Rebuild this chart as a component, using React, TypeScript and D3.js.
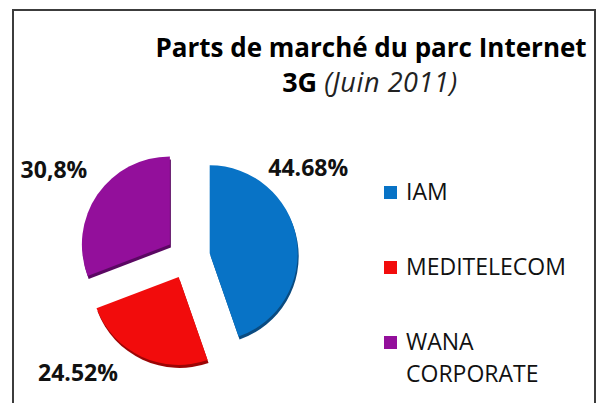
import React from "react";
import * as d3 from "d3";

const operators = ["IAM", "MEDITELECOM", "WANA CORPORATE"];
const shares = [44.68, 24.52, 30.8];
const shareLabels = ["44.68%", "24.52%", "30,8%"];
const legendLines = [["IAM"], ["MEDITELECOM"], ["WANA", "CORPORATE"]];
const sliceColors = ["#0873c6", "#f20c0c", "#930f9b"];
const edgeColors = ["#0a4b80", "#9c0505", "#5a0862"];
// label placement around the pie: angle (rad, from 12 o'clock) and radius
const labelAngles = [0.93, 3.9, 5.29];
const labelRadius = [150, 160, 160];

const W = 599;
const H = 403;
const FONT = "'Open Sans', Lato, sans-serif";

export default function App() {
  const cx = 188;
  const cy = 257;
  const r = 88;
  const explode = 22;

  const pie = d3.pie<number>().sort(null).value(d => d);
  const arcs = pie(shares);
  const arc = d3.arc<d3.PieArcDatum<number>>().innerRadius(0).outerRadius(r);

  const legendY = d3.scalePoint<string>().domain(operators).range([193, 343]);

  return (
    <svg width={W} height={H} style={{ position: "absolute", left: 0, top: 0, background: "#fff" }}>
      <rect x={13} y={10} width={582} height={H} fill="#fff" stroke="#3c3c3c" strokeWidth={2} />

      <g fontFamily={FONT} textAnchor="middle" fill="#000">
        <text x={371} y={57} fontSize={26} fontWeight="bold">Parts de marché du parc Internet</text>
        <text x={370} y={92} fontSize={27}>
          <tspan fontWeight="bold">3G </tspan>
          <tspan fontStyle="italic" fill="#222" letterSpacing={0.6}>(Juin 2011)</tspan>
        </text>
      </g>

      <g transform={`translate(${cx},${cy})`}>
        {arcs.map((a, i) => {
          const mid = (a.startAngle + a.endAngle) / 2;
          const dx = Math.sin(mid) * explode;
          const dy = -Math.cos(mid) * explode;
          return (
            <g key={operators[i]} transform={`translate(${dx},${dy})`}>
              <path d={arc(a) || ""} fill={edgeColors[i]} transform="translate(1,3)" />
              <path d={arc(a) || ""} fill={sliceColors[i]} />
            </g>
          );
        })}
        {arcs.map((a, i) => (
          <text
            key={"l" + i}
            x={Math.sin(labelAngles[i]) * labelRadius[i]}
            y={-Math.cos(labelAngles[i]) * labelRadius[i]}
            dy="0.36em"
            textAnchor="middle"
            fontFamily={FONT}
            fontWeight="bold"
            fontSize={23}
            fill="#111"
          >
            {shareLabels[i]}
          </text>
        ))}
      </g>

      <g fontFamily={FONT} fontSize={23} fill="#111">
        {operators.map((op, i) => {
          const y = legendY(op) || 0;
          return (
            <g key={op}>
              <rect x={384} y={y - 7} width={13} height={13} fill={sliceColors[i]} />
              {legendLines[i].map((line, j) => (
                <text key={line} x={406} y={y + 7 + j * 32}>{line}</text>
              ))}
            </g>
          );
        })}
      </g>
    </svg>
  );
}
